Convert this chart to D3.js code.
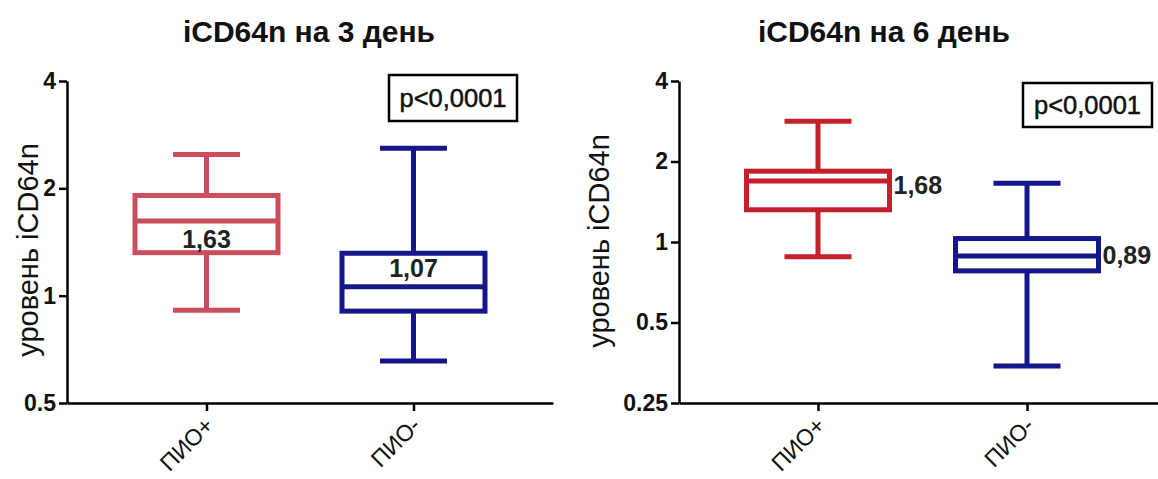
<!DOCTYPE html>
<html><head><meta charset="utf-8">
<script src="https://cdn.jsdelivr.net/npm/d3@7"></script>
<style>
body{margin:0;background:#fff;}
text{font-family:"Liberation Sans",Arial,sans-serif;}
</style></head>
<body><svg id="c" width="1158" height="479"></svg>
<script>
const categories = ["ПИО+", "ПИО-"];
const titles = ["iCD64n на 3 день", "iCD64n на 6 день"];
const yLabel = "уровень iCD64n";
const pText = "p<0,0001";
// [min, q1, median, q3, max]
const day3 = [[0.91, 1.32, 1.62, 1.91, 2.49], [0.656, 0.905, 1.06, 1.315, 2.59]];
const day6 = [[0.88, 1.32, 1.69, 1.84, 2.83], [0.344, 0.78, 0.886, 1.03, 1.66]];
const medianLabels3 = ["1,63", "1,07"];
const medianLabels6 = ["1,68", "0,89"];
const yTicks3 = [0.5, 1, 2, 4];
const yTicks6 = [0.25, 0.5, 1, 2, 4];
const yDomain3 = [0.5, 4];
const yDomain6 = [0.25, 4];

const svg = d3.select("#c");
const FF = "'Liberation Sans',Arial,sans-serif";

function panel(cfg){
  const g = svg.append("g");
  const y = d3.scaleLog().base(2).domain(cfg.yDomain).range([403, 81]);
  const x = d3.scalePoint().domain(categories).range([cfg.x0, cfg.x1]).padding(cfg.pad);

  g.append("text").attr("x", cfg.titleX).attr("y", 42).attr("text-anchor","middle")
    .attr("font-size", 30).attr("font-weight","bold").attr("fill","#111").text(cfg.title);

  g.append("text").attr("transform", `translate(${cfg.yLabX},${cfg.yLabY}) rotate(-90)`)
    .attr("text-anchor","middle").attr("font-size", 29).attr("fill","#111").text(yLabel);

  const colors = cfg.colors;
  cfg.data.forEach((d,i)=>{
    const cx = x(categories[i]);
    const bw = 143, cw = 67, c = colors[i];
    const bg = g.append("g").attr("stroke", c).attr("stroke-width", 5).attr("fill","none");
    bg.append("line").attr("x1",cx).attr("x2",cx).attr("y1",y(d[0])).attr("y2",y(d[1]));
    bg.append("line").attr("x1",cx).attr("x2",cx).attr("y1",y(d[3])).attr("y2",y(d[4]));
    bg.append("line").attr("x1",cx-cw/2).attr("x2",cx+cw/2).attr("y1",y(d[0])).attr("y2",y(d[0]));
    bg.append("line").attr("x1",cx-cw/2).attr("x2",cx+cw/2).attr("y1",y(d[4])).attr("y2",y(d[4]));
    bg.append("rect").attr("x",cx-bw/2).attr("width",bw).attr("y",y(d[3])).attr("height",y(d[1])-y(d[3])).attr("fill","#fff");
    bg.append("line").attr("x1",cx-bw/2).attr("x2",cx+bw/2).attr("y1",y(d[2])).attr("y2",y(d[2]));
    const lp = cfg.labelPos[i];
    g.append("text").attr("font-size", 25).attr("font-weight","bold").attr("fill","#222")
      .attr("text-anchor", lp.anchor)
      .attr("x", lp.anchor==="start" ? cx+bw/2+4 : cx)
      .attr("y", y(d[2]) + lp.dy)
      .text(cfg.medLabels[i]);
  });

  const ya = d3.axisLeft(y).tickValues(cfg.yTicks).tickFormat(d=>String(d)).tickSize(8).tickSizeOuter(0);
  const yg = g.append("g").attr("transform", `translate(${cfg.x0},0)`).call(ya);
  yg.select(".domain").attr("stroke-width", 2.5).attr("stroke","#000");
  yg.selectAll(".tick line").attr("stroke-width", 2.5);
  yg.selectAll(".tick text").attr("font-size", 23).attr("font-weight","bold").attr("fill","#111")
    .attr("font-family",FF).attr("x",-11);

  const xa = d3.axisBottom(x).tickSize(8).tickSizeOuter(0);
  const xg = g.append("g").attr("transform", `translate(0,403)`).call(xa);
  xg.select(".domain").attr("stroke-width", 2.5).attr("stroke","#000");
  xg.selectAll(".tick line").attr("stroke-width", 2.5);
  xg.selectAll(".tick text").attr("font-size", 23).attr("fill","#111")
    .attr("font-family",FF)
    .attr("text-anchor","end").attr("dy",null).attr("y",0)
    .attr("transform","translate(8,24) rotate(-45)");

  const pb = cfg.pbox;
  g.append("rect").attr("x",pb[0]).attr("y",pb[1]).attr("width",pb[2]).attr("height",pb[3])
    .attr("fill","#fff").attr("stroke","#000").attr("stroke-width",2.5);
  g.append("text").attr("x", pb[0]+pb[2]/2).attr("y", pb[1]+pb[3]/2+9).attr("text-anchor","middle")
    .attr("font-size", 25.5).attr("fill","#111").attr("stroke","#111").attr("stroke-width",0.5).text(pText);
}

panel({
  title: titles[0], titleX: 309, yLabX: 38, yLabY: 250,
  yDomain: yDomain3, yTicks: yTicks3, x0: 67, x1: 553, pad: 0.674,
  data: day3, medLabels: medianLabels3, colors: ["#cc4d5c", "#16168c"],
  labelPos: [{anchor:"middle", dy:27}, {anchor:"middle", dy:-10}],
  pbox: [389, 75, 128, 46]
});
panel({
  title: titles[1], titleX: 884, yLabX: 609, yLabY: 241,
  yDomain: yDomain6, yTicks: yTicks6, x0: 679, x1: 1166, pad: 0.665,
  data: day6, medLabels: medianLabels6, colors: ["#c41f2b", "#16168c"],
  labelPos: [{anchor:"start", dy:13}, {anchor:"start", dy:8}],
  pbox: [1023, 83, 129, 44]
});
</script></body></html>
